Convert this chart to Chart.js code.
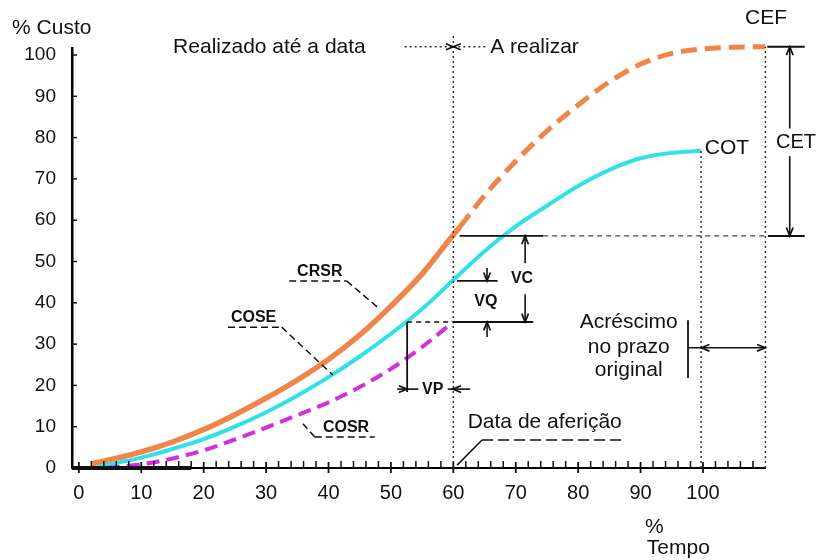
<!DOCTYPE html>
<html><head><meta charset="utf-8">
<script src="https://cdn.jsdelivr.net/npm/chart.js@4/dist/chart.umd.min.js"></script>
<style>html,body{margin:0;padding:0;background:#fff}</style>
</head><body>
<canvas id="c" width="817" height="560"></canvas>
<script>
// ---- data ----
const xTickLabels = [0, 10, 20, 30, 40, 50, 60, 70, 80, 90, 100];
const yTickLabels = [0, 10, 20, 30, 40, 50, 60, 70, 80, 90, 100];

// CRSR – custo real do serviço realizado (até a data de aferição)
const crsrX = [2, 5, 10, 15, 20, 25, 30, 35, 40, 45, 50, 55, 60, 61];
const crsrY = [1, 2, 3.9, 6.3, 9.3, 12.9, 16.9, 21.3, 26.3, 32.2, 39.2, 47, 56.5, 58.3];
// projeção do custo real (a realizar) até o CEF
const cefX = [61, 65, 70, 75, 80, 85, 90, 95, 100, 105, 110];
const cefY = [58.3, 66, 74.3, 81.6, 87.9, 93.5, 97.8, 100.4, 101.5, 101.9, 102];
// COSE – custo orçado do serviço executado (curva até COT)
const coseX = [3, 10, 15, 20, 25, 30, 35, 40, 45, 50, 55, 60, 65, 70, 75, 80, 85, 90, 95, 99.7];
const coseY = [0.3, 2.5, 4.6, 7, 10, 13.5, 17.5, 22, 27, 32.5, 38.5, 45.5, 52.5, 58.5, 63.5, 68.3, 72.2, 75, 76.3, 76.8];
// COSR – custo orçado do serviço realizado
const cosrX = [4.5, 10, 15, 20, 25, 30, 35, 40, 45, 50, 55, 59.9];
const cosrY = [0, 0.9, 2.3, 4.3, 6.9, 9.8, 12.8, 15.9, 19.6, 24, 29.3, 35.3];

const pts = (xs, ys) => xs.map((x, i) => ({x, y: ys[i]}));

const FONT = "'Liberation Sans', Arial, Helvetica, sans-serif";
Chart.defaults.font.family = FONT;
Chart.defaults.color = '#111';

const annot = {
  id: 'annot',
  afterDraw(chart) {
    const ctx = chart.ctx;
    const xs = chart.scales.x, ys = chart.scales.y;
    const X = v => xs.getPixelForValue(v), Y = v => ys.getPixelForValue(v);

    function pline(p1x, p1y, p2x, p2y, o = {}) {
      ctx.save();
      ctx.beginPath();
      ctx.strokeStyle = o.color || '#111';
      ctx.lineWidth = o.width || 1.6;
      ctx.setLineDash(o.dash || []);
      ctx.moveTo(p1x, p1y);
      ctx.lineTo(p2x, p2y);
      ctx.stroke();
      ctx.restore();
    }
    const line = (x1, y1, x2, y2, o) => pline(X(x1), Y(y1), X(x2), Y(y2), o);
    // arrowhead with tip at data (x,y), pointing in direction ang (radians, screen)
    function arrow(x, y, ang, size = 9) {
      const px = X(x), py = Y(y);
      ctx.save();
      ctx.strokeStyle = '#111';
      ctx.lineWidth = 1.7;
      ctx.beginPath();
      const a1 = ang + Math.PI - 0.38, a2 = ang + Math.PI + 0.38;
      ctx.moveTo(px + size * Math.cos(a1), py + size * Math.sin(a1));
      ctx.lineTo(px, py);
      ctx.lineTo(px + size * Math.cos(a2), py + size * Math.sin(a2));
      ctx.stroke();
      ctx.restore();
    }
    function text(s, x, y, o = {}) {
      ctx.save();
      ctx.fillStyle = '#111';
      ctx.font = (o.bold ? 'bold ' : '') + (o.size || 21) + 'px ' + FONT;
      ctx.textAlign = o.align || 'left';
      ctx.textBaseline = 'middle';
      ctx.fillText(s, X(x), Y(y));
      ctx.restore();
    }
    const DOT = {dash: [2, 3], width: 1.5, color: '#333'};
    const UP = -Math.PI / 2, DOWN = Math.PI / 2, LEFT = Math.PI, RIGHT = 0;

    // axis decorations: thick start of x axis, ticks
    pline(X(-1.1), Y(0), X(18), Y(0), {width: 4});
    for (let v = 2; v < 110; v += 2) {
      if (v % 10 === 0 && v <= 100) continue;
      pline(X(v), Y(0), X(v), Y(0) - 7, {width: 1.5});
    }
    xTickLabels.forEach(v => pline(X(v), Y(0) - 6, X(v), Y(0) + 5, {width: 1.8}));
    yTickLabels.forEach(v => { if (v > 0) pline(X(-1.1), Y(v), X(-1.1) + 5, Y(v), {width: 1.5}); });

    // axis titles
    text('% Custo', -10.7, 106.5);
    text('%', 90.7, -14.3);
    text('Tempo', 91, -19.4);

    // data de aferição (x = 60)
    line(60, 0, 60, 105.3, DOT);
    line(52.2, 102, 60, 102, DOT);
    line(60, 102, 65.2, 102, DOT);
    arrow(60, 102, RIGHT, 8);
    arrow(60, 102, LEFT, 8);
    text('Realizado até a data', 15.1, 102);
    text('A realizar', 65.9, 102);

    // CEF / CET
    text('CEF', 110.1, 109, {align: 'center'});
    line(110, 0, 110, 102, DOT);
    line(110.3, 102, 116.3, 102, {width: 2});
    line(110.4, 56.2, 116.3, 56.2, {width: 2});
    line(113.9, 102, 113.9, 82.2);
    line(113.9, 75.5, 113.9, 56.2);
    arrow(113.9, 102, UP);
    arrow(113.9, 56.2, DOWN);
    text('CET', 114.9, 78.9, {align: 'center', size: 20});

    // COT
    line(99.7, 0, 99.7, 76.8, DOT);
    text('COT', 100.3, 77.5);

    // VC
    line(61, 56.2, 74.4, 56.2, {width: 1.8});
    line(74.4, 56.2, 110.4, 56.2, {dash: [5, 4], width: 1.4, color: '#444'});
    line(71.5, 56.2, 71.5, 49.6);
    line(71.5, 42.1, 71.5, 35.35);
    arrow(71.5, 56.2, UP);
    arrow(71.5, 35.35, DOWN);
    text('VC', 71, 45.8, {bold: true, size: 16, align: 'center'});
    line(52.6, 35.35, 59.9, 35.35, {dash: [5, 4], width: 1.6});
    line(59.9, 35.35, 72.8, 35.35, {width: 1.8});

    // VQ
    line(60.6, 45.3, 67.1, 45.3, {width: 1.8});
    line(65.4, 48.4, 65.4, 45.3);
    arrow(65.4, 45.3, DOWN);
    line(65.4, 31.7, 65.4, 35.35);
    arrow(65.4, 35.35, UP);
    text('VQ', 65.2, 40.2, {bold: true, size: 16, align: 'center'});

    // VP
    line(52.6, 35.35, 52.6, 18.4, {width: 1.8});
    line(51, 19.1, 54.4, 19.1);
    line(59.1, 19.1, 62.7, 19.1);
    arrow(52.6, 19.1, RIGHT);
    arrow(59.9, 19.1, LEFT);
    text('VP', 56.7, 19.1, {bold: true, size: 16, align: 'center'});

    // Acréscimo no prazo original
    line(97.6, 35.8, 97.6, 21.8, {width: 1.8});
    line(97.6, 29.1, 110, 29.1);
    arrow(99.7, 29.1, LEFT);
    arrow(110, 29.1, RIGHT);
    text('Acréscimo', 88.1, 35.4, {align: 'center'});
    text('no prazo', 88.1, 29.3, {align: 'center'});
    text('original', 88.1, 23.7, {align: 'center'});

    // Data de aferição label
    text('Data de aferição', 62.3, 11.1);
    line(64.6, 6.8, 87.5, 6.8, {dash: [11, 5], width: 1.5});
    line(64.6, 6.8, 60.6, 0.7, {width: 1.5});

    // curve labels
    const LD = {dash: [7, 4], width: 1.5};
    text('CRSR', 38.6, 47.5, {bold: true, size: 16, align: 'center'});
    line(33.7, 45.3, 42.9, 45.3, LD);
    line(42.9, 45.3, 47.8, 39, LD);
    text('COSE', 28, 36.3, {bold: true, size: 16, align: 'center'});
    line(23.9, 34.1, 32.5, 34.1, LD);
    line(32.5, 34.1, 40.7, 22.5, LD);
    text('COSR', 42.8, 9.7, {bold: true, size: 16, align: 'center'});
    line(37.8, 7.5, 47.4, 7.5, LD);
    line(37.8, 7.5, 35.9, 10.7, LD);
  }
};

new Chart(document.getElementById('c'), {
  type: 'line',
  data: {
    datasets: [
      {label: 'COSR', data: pts(cosrX, cosrY), borderColor: '#D22FDF', borderWidth: 4, borderDash: [13, 7]},
      {label: 'COSE', data: pts(coseX, coseY), borderColor: '#30E2E8', borderWidth: 4},
      {label: 'CRSR', data: pts(crsrX, crsrY), borderColor: '#EF8548', borderWidth: 5.5},
      {label: 'CEF', data: pts(cefX, cefY), borderColor: '#EF8548', borderWidth: 5, borderDash: [16, 8]}
    ]
  },
  options: {
    responsive: false,
    animation: false,
    events: [],
    layout: {padding: {left: 0, right: 51.6, top: 48.4, bottom: 0}},
    elements: {
      point: {radius: 0},
      line: {tension: 0.4, cubicInterpolationMode: 'monotone', borderCapStyle: 'butt', fill: false}
    },
    datasets: {line: {clip: false}},
    plugins: {legend: {display: false}, tooltip: {enabled: false}},
    scales: {
      x: {
        type: 'linear', min: -1.1, max: 110,
        grid: {display: false, drawTicks: false},
        border: {display: true, color: '#000', width: 2},
        ticks: {
          stepSize: 10, includeBounds: false, padding: 13, maxRotation: 0, autoSkip: false,
          font: {size: 20}, color: '#111',
          callback: v => xTickLabels.includes(v) ? String(v) : ''
        },
        afterFit: s => { s.height = 92; }
      },
      y: {
        type: 'linear', min: 0, max: 101.6,
        grid: {display: false, drawTicks: false},
        border: {display: true, color: '#000', width: 2.5},
        ticks: {
          stepSize: 10, includeBounds: false, padding: 16,
          font: {size: 19}, color: '#111',
          callback: v => yTickLabels.includes(v) ? String(v) : ''
        },
        afterFit: s => { s.width = 72; }
      }
    }
  },
  plugins: [annot]
});
</script>
</body></html>
